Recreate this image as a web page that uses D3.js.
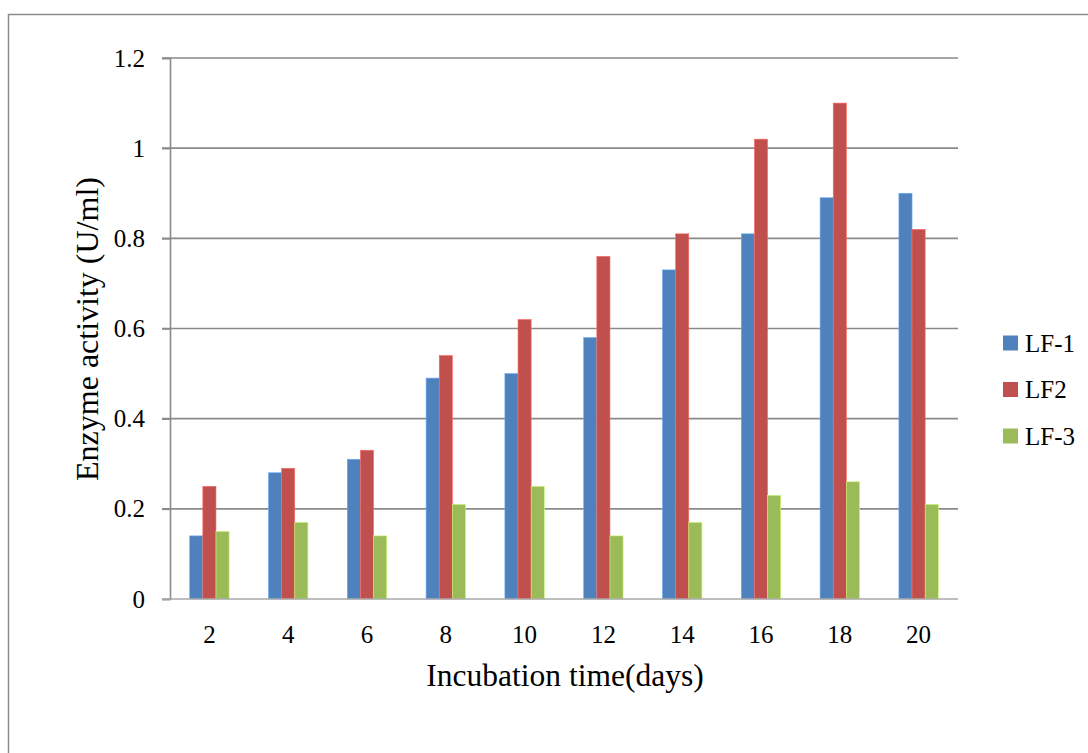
<!DOCTYPE html>
<html>
<head>
<meta charset="utf-8">
<script src="https://cdn.jsdelivr.net/npm/d3@7"></script>
<style>
  html, body { margin: 0; padding: 0; background: #fff; }
  svg { display: block; }
  text { font-family: "Liberation Serif", "Times New Roman", serif !important; fill: #000; }
</style>
</head>
<body>
<svg id="chart" width="1088" height="753"></svg>
<script>
// Incubation days on the x axis
const days = ["2", "4", "6", "8", "10", "12", "14", "16", "18", "20"];
// Enzyme activity (U/ml) for each strain
const lf1 = [0.14, 0.28, 0.31, 0.49, 0.50, 0.58, 0.73, 0.81, 0.89, 0.90];
const lf2 = [0.25, 0.29, 0.33, 0.54, 0.62, 0.76, 0.81, 1.02, 1.10, 0.82];
const lf3 = [0.15, 0.17, 0.14, 0.21, 0.25, 0.14, 0.17, 0.23, 0.26, 0.21];
const seriesNames = ["LF-1", "LF2", "LF-3"];
const seriesColors = ["#4F81BD", "#C0504D", "#9BBB59"];
const yTicks = [0, 0.2, 0.4, 0.6, 0.8, 1, 1.2];

const series = [lf1, lf2, lf3];

const svg = d3.select("#chart");
const plot = { left: 170, right: 958, top: 58, bottom: 599 };
const gridColor = "#8a8a8a";
const serif = "'Liberation Serif', 'Times New Roman', serif";

// outer chart frame
svg.append("rect")
  .attr("x", 8.5).attr("y", 14.5)
  .attr("width", 1100).attr("height", 760)
  .attr("fill", "none").attr("stroke", "#8c8c8c").attr("stroke-width", 1.5);

const x0 = d3.scaleBand().domain(days)
  .range([plot.left, plot.right])
  .paddingInner(0.5).paddingOuter(0.25);
const x1 = d3.scaleBand().domain(seriesNames)
  .range([0, x0.bandwidth()]).padding(0);
const y = d3.scaleLinear().domain([0, 1.2]).range([plot.bottom, plot.top]);

// horizontal gridlines
svg.append("g").selectAll("line")
  .data(yTicks.filter(t => t > 0))
  .join("line")
  .attr("x1", plot.left - 8).attr("x2", plot.right)
  .attr("y1", d => y(d)).attr("y2", d => y(d))
  .attr("stroke", gridColor).attr("stroke-width", 1.6);

// bars
const groups = svg.append("g").selectAll("g")
  .data(days)
  .join("g")
  .attr("transform", d => `translate(${x0(d)},0)`);

groups.selectAll("rect")
  .data((d, i) => seriesNames.map((s, k) => ({ s, k, v: series[k][i] })))
  .join("rect")
  .attr("x", d => x1(d.s))
  .attr("width", x1.bandwidth())
  .attr("y", d => y(d.v))
  .attr("height", d => y(0) - y(d.v))
  .attr("fill", d => seriesColors[d.k])
  .attr("stroke", d => d3.color(seriesColors[d.k]).brighter(0.8))
  .attr("stroke-width", 0.6);

// y axis
const yAxis = d3.axisLeft(y).tickValues(yTicks).tickSize(8).tickPadding(17)
  .tickFormat(d => d3.format("")(d));
const gy = svg.append("g").attr("transform", `translate(${plot.left},0)`).call(yAxis)
  .attr("font-family", null);
gy.select(".domain").attr("stroke", gridColor).attr("stroke-width", 1.6);
gy.selectAll(".tick line").attr("stroke", gridColor).attr("stroke-width", 1.6);
gy.selectAll(".tick text").style("font-family", serif).style("font-size", "25px").attr("fill", "#000");

// x axis
const xAxis = d3.axisBottom(x0).tickSize(0).tickPadding(26);
const gx = svg.append("g").attr("transform", `translate(0,${plot.bottom})`).call(xAxis)
  .attr("font-family", null);
gx.select(".domain").attr("d", `M${plot.left - 8},0H${plot.right}`)
  .attr("stroke", "#a8a8a8").attr("stroke-width", 1.6);
gx.selectAll(".tick text").style("font-family", serif).style("font-size", "25px").attr("fill", "#000");

// axis titles
svg.append("text")
  .attr("x", (plot.left + plot.right) / 2 + 1).attr("y", 686)
  .attr("text-anchor", "middle").style("font-size", "31.5px")
  .text("Incubation time(days)");

svg.append("text")
  .attr("transform", "translate(98,329) rotate(-90)")
  .attr("text-anchor", "middle").style("font-size", "32px")
  .text("Enzyme activity (U/ml)");

// legend
const legend = svg.append("g").selectAll("g")
  .data(seriesNames)
  .join("g")
  .attr("transform", (d, i) => `translate(1003,${343 + i * 46.5})`);
legend.append("rect")
  .attr("x", 0).attr("y", -7.5).attr("width", 15).attr("height", 15)
  .attr("fill", (d, i) => seriesColors[i]);
legend.append("text")
  .attr("x", 22).attr("y", 0).attr("dy", "0.35em")
  .style("font-size", "25px")
  .text(d => d);
</script>
</body>
</html>
